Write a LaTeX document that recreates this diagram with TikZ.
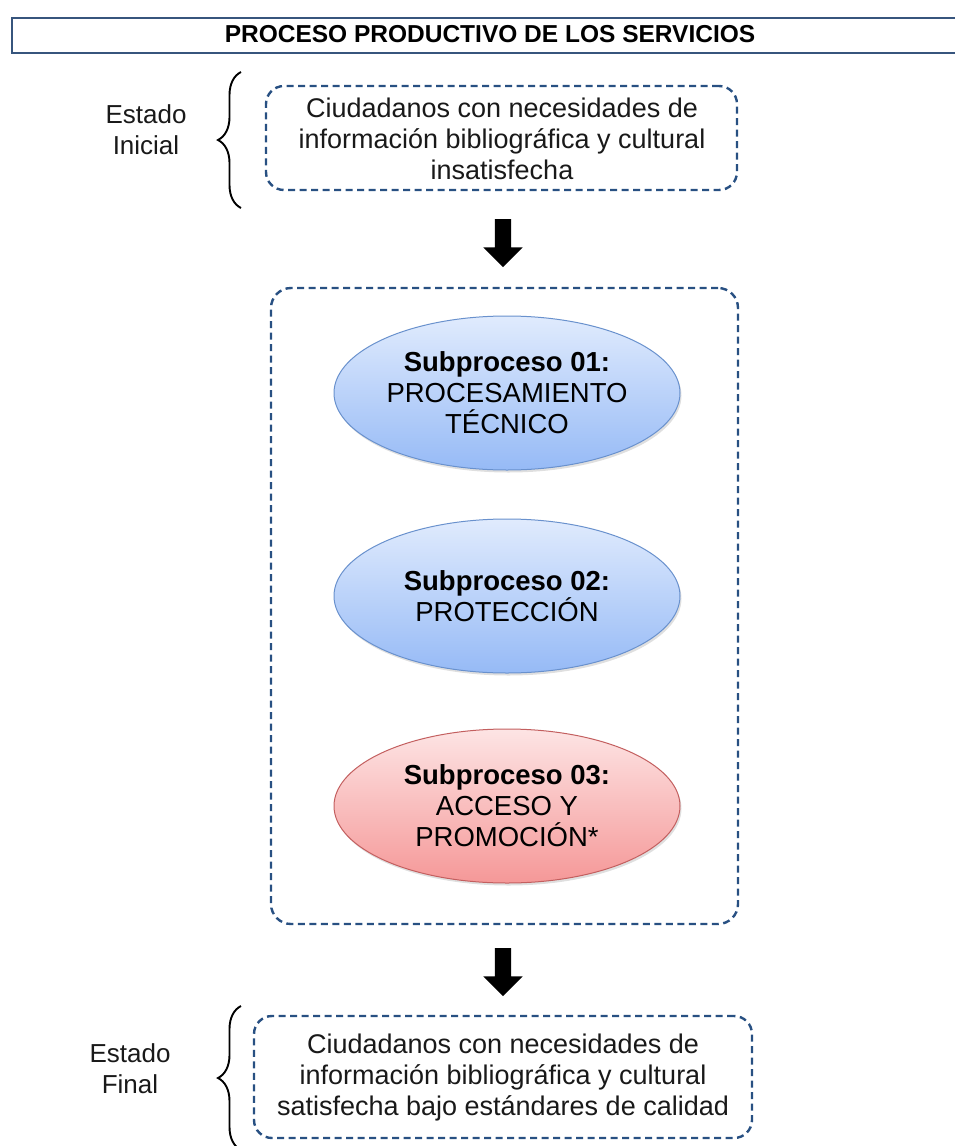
\documentclass[tikz,border=0pt]{standalone}
\usepackage{fontspec}
\setmainfont{Liberation Sans}
\usetikzlibrary{shapes.geometric,shapes.arrows,decorations.pathreplacing,shadows}
\definecolor{dashblue}{RGB}{40,80,130}
\definecolor{titleblue}{RGB}{55,85,125}
\definecolor{bluetop}{RGB}{224,235,253}
\definecolor{bluebot}{RGB}{150,186,246}
\definecolor{blueedge}{RGB}{105,145,205}
\definecolor{redtop}{RGB}{253,228,228}
\definecolor{redbot}{RGB}{245,152,152}
\definecolor{rededge}{RGB}{195,95,95}
\tikzset{
  txt/.style={font=\fontsize{27}{31}\selectfont, align=center, inner sep=0pt, text=black!90},
  lbl/.style={font=\fontsize{26}{31}\selectfont, align=center, inner sep=0pt, text=black!90},
  dbox/.style={draw=dashblue, line width=2.4pt, dash pattern=on 7pt off 4.5pt, rounded corners=18pt},
  sub/.style={ellipse, minimum width=346pt, minimum height=154pt, inner sep=0pt, align=center,
     font=\fontsize{27.5}{31}\selectfont, line width=1pt, shading=axis,
     drop shadow={shadow xshift=1.5pt, shadow yshift=-2.5pt, opacity=0.25}},
  bluesub/.style={sub, draw=blueedge, top color=bluetop, bottom color=bluebot},
  redsub/.style={sub, draw=rededge, top color=redtop, bottom color=redbot},
  downarrow/.style={single arrow, shape border rotate=270, minimum height=48pt, inner sep=8pt,
     single arrow head extend=11.5pt, fill=black, draw=none},
  bracepath/.style={decorate, decoration={brace, amplitude=23pt}, line width=1.9pt, draw=black}
}
\begin{document}
\begin{tikzpicture}[x=1pt,y=-1pt]
\useasboundingbox (0,0) rectangle (955,1146);
% title
\node[draw=titleblue, line width=2.2pt, minimum width=946pt, minimum height=35pt, inner sep=0pt,
      anchor=north west] (title) at (11,17) {};
\node[font=\fontsize{24.5}{28}\selectfont\bfseries, inner sep=0pt] (titletext) at (490,34) {PROCESO PRODUCTIVO DE LOS SERVICIOS};
% initial state
\node[lbl] (estini) at (146,130) {Estado\\Inicial};
\coordinate (b1s) at (241,208);
\coordinate (b1e) at (241,72);
\draw[bracepath] (b1s) -- (b1e);
\node[dbox, minimum width=471pt, minimum height=104pt] (ini) at (501.5,138) {};
\node[txt] (initext) at (502,139) {Ciudadanos con necesidades de\\información bibliográfica y cultural\\insatisfecha};
% arrow 1
\node[downarrow] (arr1) at (503,239) {};
% process box
\node[dbox, minimum width=467pt, minimum height=636pt, rounded corners=20pt] (proc) at (504.5,606) {};
\node[bluesub] (s1) at (507,393) {\textbf{Subproceso 01:}\\PROCESAMIENTO\\TÉCNICO};
\node[bluesub] (s2) at (507,596) {\textbf{Subproceso 02:}\\PROTECCIÓN};
\node[redsub] (s3) at (507,806) {\textbf{Subproceso 03:}\\ACCESO Y\\PROMOCIÓN*};
% arrow 2
\node[downarrow] (arr2) at (503,968) {};
% final state
\node[lbl] (estfin) at (130,1069) {Estado\\Final};
\coordinate (b2s) at (241,1150);
\coordinate (b2e) at (241,1006);
\draw[bracepath] (b2s) -- (b2e);
\node[dbox, minimum width=498pt, minimum height=122pt] (fin) at (503,1077) {};
\node[txt] (fintext) at (503,1078) {Ciudadanos con necesidades de\\información bibliográfica y cultural\\satisfecha bajo estándares de calidad};
\end{tikzpicture}
\end{document}
